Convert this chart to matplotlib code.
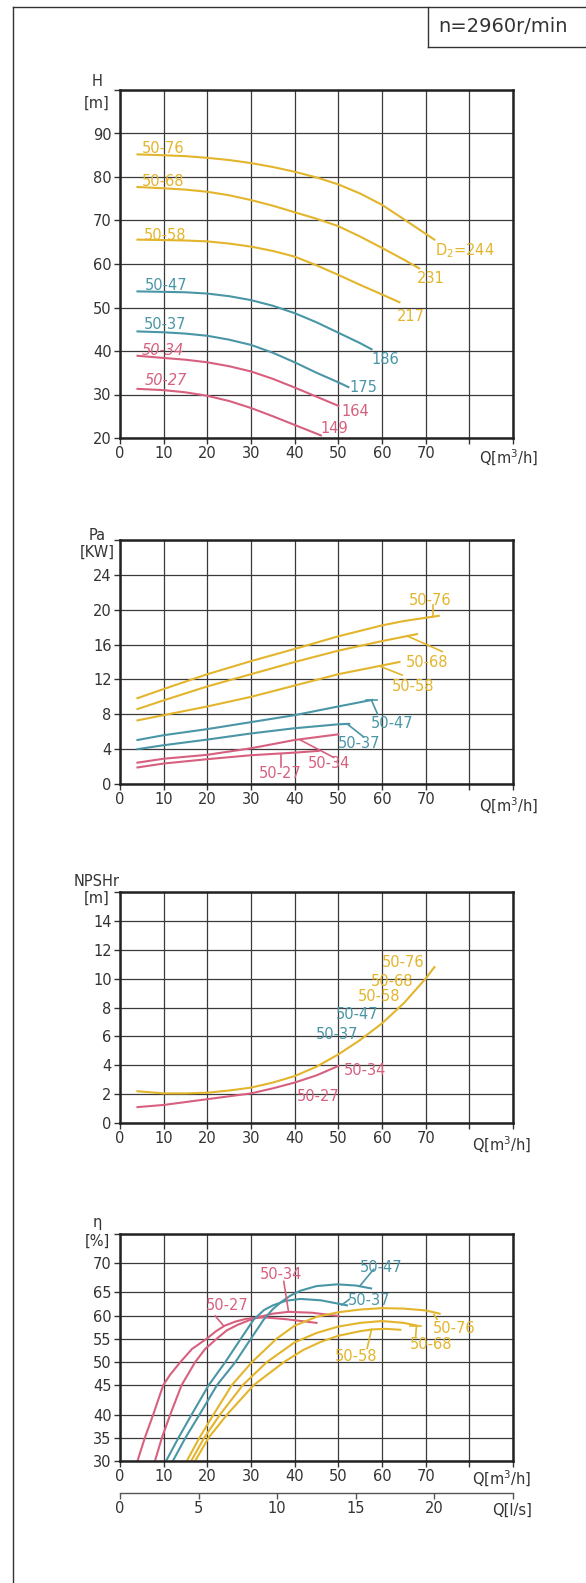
import numpy as np
import matplotlib.pyplot as plt
from matplotlib.lines import Line2D

# ---- data (Q in m3/h) ----
models = ['50-27', '50-34', '50-37', '50-47', '50-58', '50-68', '50-76']
impeller = ['149', '164', '175', '186', '217', '231', 'D$_2$=244']

head_q = {
    '50-76': [4, 10, 15, 20, 25, 30, 35, 40, 45, 50, 55, 60, 65, 72],
    '50-68': [4, 10, 15, 20, 25, 30, 35, 40, 45, 50, 55, 60, 65, 68.5],
    '50-58': [4, 10, 15, 20, 25, 30, 35, 40, 45, 50, 55, 60, 64],
    '50-47': [4, 10, 15, 20, 25, 30, 35, 40, 45, 50, 55, 57.6],
    '50-37': [4, 10, 15, 20, 25, 30, 35, 40, 45, 50, 52.3],
    '50-34': [4, 10, 15, 20, 25, 30, 35, 40, 45, 50],
    '50-27': [4, 10, 15, 20, 25, 30, 35, 40, 46],
}
head_h = {
    '50-76': [85.2, 85.0, 84.8, 84.4, 83.9, 83.2, 82.3, 81.2, 79.9, 78.3, 76.2, 73.6, 70.3, 65.6],
    '50-68': [77.7, 77.4, 77.1, 76.6, 75.8, 74.7, 73.4, 71.9, 70.4, 68.7, 66.3, 63.7, 61.0, 59.0],
    '50-58': [65.6, 65.5, 65.4, 65.2, 64.7, 64.0, 63.0, 61.7, 59.7, 57.5, 55.2, 53.0, 51.2],
    '50-47': [53.7, 53.6, 53.5, 53.2, 52.6, 51.7, 50.4, 48.7, 46.6, 44.2, 41.8, 40.4],
    '50-37': [44.5, 44.3, 44.0, 43.5, 42.6, 41.4, 39.6, 37.4, 35.0, 32.8, 31.7],
    '50-34': [38.9, 38.4, 38.0, 37.4, 36.5, 35.3, 33.6, 31.6, 29.5, 27.4],
    '50-27': [31.3, 31.0, 30.5, 29.7, 28.5, 26.9, 25.0, 23.0, 20.6],
}

power_q = {
    '50-76': [4, 10, 20, 30, 40, 50, 60, 65, 73],
    '50-68': [4, 10, 20, 30, 40, 50, 60, 68],
    '50-58': [4, 10, 20, 30, 40, 50, 60, 64],
    '50-47': [4, 10, 20, 30, 40, 50, 57.7],
    '50-37': [4, 10, 20, 30, 40, 50, 52.5],
    '50-34': [4, 10, 20, 30, 40, 50],
    '50-27': [4, 10, 20, 30, 40, 45.5],
}
power_p = {
    '50-76': [9.85, 10.9, 12.6, 14.1, 15.5, 16.95, 18.2, 18.7, 19.3],
    '50-68': [8.6, 9.6, 11.2, 12.6, 14.0, 15.3, 16.4, 17.2],
    '50-58': [7.3, 7.9, 8.9, 10.0, 11.3, 12.6, 13.6, 14.0],
    '50-47': [5.05, 5.6, 6.3, 7.1, 7.9, 8.9, 9.65],
    '50-37': [4.0, 4.45, 5.1, 5.8, 6.4, 6.85, 6.9],
    '50-34': [2.45, 2.9, 3.35, 4.1, 5.05, 5.7],
    '50-27': [1.9, 2.35, 2.85, 3.3, 3.6, 3.8],
}

npsh_q_big = [4, 10, 15, 20, 25, 30, 35, 40, 45, 50, 55, 60, 65, 70, 72]
npsh_big = [2.2, 2.05, 2.05, 2.1, 2.25, 2.45, 2.8, 3.25, 3.9, 4.75, 5.75, 6.9, 8.3, 10.0, 10.8]
npsh_q_small = [4, 10, 15, 20, 25, 30, 35, 40, 45, 50]
npsh_small = [1.1, 1.25, 1.45, 1.65, 1.85, 2.05, 2.4, 2.8, 3.3, 3.95]

eff_q = {
    '50-27': [4.0, 5.7, 7.6, 9.9, 11.5, 13.8, 16.5, 19.9, 22, 24, 26.5, 29, 33, 38, 45],
    '50-34': [8.0, 9.6, 11.5, 14.1, 17.2, 19.5, 22.2, 24.5, 27, 31, 35, 38.6, 44, 50],
    '50-37': [10.55, 13.4, 16.4, 20.3, 24.1, 27.7, 30.6, 33, 35, 38, 41.3, 46, 52],
    '50-47': [12.1, 15, 18.2, 22.2, 26.4, 30, 32.9, 35, 37, 39, 41.3, 45, 49.7, 54, 57.5],
    '50-76': [15.3, 18.2, 21.4, 25.6, 30.2, 35.9, 40, 45, 50, 55, 60, 65, 70, 73.2],
    '50-68': [16.3, 19.3, 22.9, 28.1, 33.6, 40, 45, 50, 55, 60, 65, 68],
    '50-58': [17.2, 20.3, 24.5, 30.6, 37.5, 42, 46, 50, 55, 58, 61, 64.2],
}
eff_e = {
    '50-27': [30, 35, 40, 45, 47.3, 50, 52.8, 55, 56.6, 57.8, 58.7, 59.3, 59.6, 59.2, 58.4],
    '50-34': [30, 35, 40, 45, 50, 52.8, 55, 56.8, 58, 59.5, 60.4, 60.8, 60.6, 59.9],
    '50-37': [30, 35, 40, 45, 50, 55, 59.1, 61.2, 62.2, 63.2, 63.6, 63.3, 62.2],
    '50-47': [30, 35, 40, 45, 50, 55, 59.1, 61.4, 63, 64.3, 65.3, 66.1, 66.4, 66.2, 65.7],
    '50-76': [30, 35, 40, 45, 50, 55, 57.8, 59.7, 60.7, 61.3, 61.6, 61.5, 61.1, 60.4],
    '50-68': [30, 35, 40, 45, 50, 54.2, 56.2, 57.6, 58.4, 58.8, 58.4, 57.8],
    '50-58': [30, 35, 40, 45, 50, 52.6, 54.3, 55.6, 56.6, 57.0, 57.1, 56.9],
}

YEL = '#E3B52C'
TEAL = '#4A96A6'
PINK = '#D8607F'
colors = {'50-27': PINK, '50-34': PINK, '50-37': TEAL, '50-47': TEAL,
          '50-58': YEL, '50-68': YEL, '50-76': YEL}

# uneven efficiency grid as drawn on the sheet
ETA_VALS = [30, 35, 40, 45, 50, 55, 60, 65, 70, 75]
ETA_POS = [0, 23.3, 46.3, 75.7, 98.7, 122.3, 145.3, 168.3, 197.3, 226.7]


def eta_fwd(v):
    v = np.asarray(v, float)
    out = np.interp(v, ETA_VALS, ETA_POS)
    out = np.where(v < 30, (v - 30) * 4.66, out)
    return np.where(v > 75, 226.7 + (v - 75) * 5.8, out)


def eta_inv(p):
    p = np.asarray(p, float)
    out = np.interp(p, ETA_POS, ETA_VALS)
    out = np.where(p < 0, 30 + p / 4.66, out)
    return np.where(p > 226.7, 75 + (p - 226.7) / 5.8, out)


W, H = 586, 1583
plt.rcParams['font.family'] = 'DejaVu Sans'
fig = plt.figure(figsize=(W / 100, H / 100), dpi=100)

TXT = '#333333'
LW = 1.5
FS = 10.5


def make_axes(top, bottom):
    ax = fig.add_axes([120 / W, 1 - bottom / H, 393 / W, (bottom - top) / H])
    ax.set_xlim(0, 90)
    ax.set_xticks(range(0, 91, 10))
    ax.set_xticklabels([str(v) for v in range(0, 71, 10)] + ['', ''])
    ax.grid(True, color='#3a3a3a', lw=0.9)
    for s in ax.spines.values():
        s.set_linewidth(1.8)
        s.set_color('#222222')
    ax.tick_params(direction='out', length=4, width=1, color='#333333',
                   labelsize=FS, labelcolor=TXT, pad=2)
    return ax


def fig_text(x, y, s, size=FS):
    fig.text(x / W, 1 - y / H, s, ha='center', va='center', fontsize=size,
             color=TXT)


def leader(ax, p0, p1, c):
    ax.plot([p0[0], p1[0]], [p0[1], p1[1]], color=c, lw=1.2)


# ---- frame of the sheet ----
for xs, ys in [([13, 13], [7, H]), ([13, W], [7, 7]),
               ([428, 428], [7, 47]), ([428, W], [47, 47])]:
    fig.add_artist(Line2D([x / W for x in xs], [1 - y / H for y in ys],
                          transform=fig.transFigure, color='#333333', lw=1))
fig_text(503, 26, 'n=2960r/min', size=14)

# ---- head ----
ax1 = make_axes(90, 438)
ax1.set_ylim(20, 100)
ax1.set_yticks(range(20, 101, 10))
ax1.set_yticklabels([str(v) for v in range(20, 91, 10)] + [''])
for m in models:
    ax1.plot(head_q[m], head_h[m], color=colors[m], lw=LW)

name_pos = {'50-76': (5.0, 85.6), '50-68': (5.0, 78.0), '50-58': (5.35, 65.6),
            '50-47': (5.6, 54.1), '50-37': (5.35, 45.0), '50-34': (5.0, 39.0),
            '50-27': (5.7, 32.2)}
d_pos = {'50-76': (72.2, 62.0), '50-68': (68.0, 55.6), '50-58': (63.3, 46.9),
         '50-47': (57.6, 37.0), '50-37': (52.6, 30.6), '50-34': (50.6, 25.1),
         '50-27': (46.0, 21.1)}
for m, d in zip(models, impeller):
    st = 'italic' if m in ('50-34', '50-27') else 'normal'
    ax1.text(*name_pos[m], m, color=colors[m], fontsize=FS, va='baseline',
             ha='left', style=st)
    ax1.text(*d_pos[m], d, color=colors[m], fontsize=FS, va='baseline', ha='left')
fig_text(97, 82, 'H')
fig_text(97, 103, '[m]')
fig_text(509, 458, 'Q[m$^3$/h]')

# ---- power ----
ax2 = make_axes(540, 784)
ax2.set_ylim(0, 28)
ax2.set_yticks(range(0, 29, 4))
ax2.set_yticklabels([str(v) for v in range(0, 25, 4)] + [''])
for m in models:
    ax2.plot(power_q[m], power_p[m], color=colors[m], lw=LW)

pa_lab = {'50-76': (71, 20.55), '50-68': (70.4, 13.43), '50-58': (67, 10.7),
          '50-47': (62.4, 6.43), '50-37': (54.7, 4.13), '50-34': (47.9, 1.84),
          '50-27': (36.7, 0.69)}
pa_lead = {'50-76': ((71.6, 19.2), (71.6, 20.5)),
           '50-68': ((65.7, 17.0), (73.8, 15.2)),
           '50-58': ((59.6, 13.5), (64.6, 12.5)),
           '50-47': ((57.6, 9.6), (59.0, 8.0)),
           '50-37': ((52.0, 6.9), (55.8, 5.4)),
           '50-34': ((41.3, 5.05), (48.9, 3.06)),
           '50-27': ((36.8, 3.45), (36.8, 2.0))}
for m in models:
    ax2.text(*pa_lab[m], m, color=colors[m], fontsize=FS, ha='center', va='baseline')
    leader(ax2, *pa_lead[m], colors[m])
ax2.plot([56.4, 58.8], [9.65, 9.65], color=TEAL, lw=1.2)
fig_text(97, 536, 'Pa')
fig_text(97, 552, '[KW]')
fig_text(509, 806, 'Q[m$^3$/h]')

# ---- NPSHr ----
ax3 = make_axes(892, 1123)
ax3.set_ylim(0, 16)
ax3.set_yticks(range(0, 17, 2))
ax3.set_yticklabels([str(v) for v in range(0, 15, 2)] + [''])
ax3.plot(npsh_q_big, npsh_big, color=YEL, lw=LW)
ax3.plot(npsh_q_small, npsh_small, color=PINK, lw=LW)
np_lab = {'50-76': (64.9, 10.81), '50-68': (62.3, 9.49), '50-58': (59.3, 8.48),
          '50-47': (54.4, 7.21), '50-37': (49.8, 5.82), '50-34': (56.0, 3.33),
          '50-27': (45.5, 1.52)}
for m in models:
    ax3.text(*np_lab[m], m, color=colors[m], fontsize=FS, ha='center', va='baseline')
fig_text(97, 881, 'NPSHr')
fig_text(97, 898, '[m]')
fig_text(502, 1145, 'Q[m$^3$/h]')

# ---- efficiency ----
ax4 = make_axes(1234, 1461)
ax4.set_yscale('function', functions=(eta_fwd, eta_inv))
ax4.set_ylim(30, 75)
ax4.set_yticks(ETA_VALS)
ax4.set_yticklabels([str(v) for v in ETA_VALS[:-1]] + [''])
ax4.yaxis.set_minor_locator(plt.NullLocator())
for m in models:
    ax4.plot(eff_q[m], eff_e[m], color=colors[m], lw=LW)

ef_lab = {'50-47': (59.8, 68.6), '50-37': (57.1, 62.3), '50-34': (36.9, 67.3),
          '50-27': (24.6, 61.1), '50-76': (76.6, 56.2), '50-68': (71.3, 52.75),
          '50-58': (54.1, 50.3)}
ef_lead = {'50-47': ((54.9, 66.1), (58.1, 69.0)),
           '50-37': ((50.8, 62.3), (52.5, 63.5)),
           '50-34': ((38.6, 60.8), (37.5, 66.9)),
           '50-27': ((23.7, 57.8), (21.8, 59.9)),
           '50-76': ((71.9, 60.2), (72.6, 59.2)),
           '50-68': ((67.9, 57.8), (67.7, 55.4)),
           '50-58': ((57.6, 57.0), (56.6, 52.9))}
for m in models:
    ax4.text(*ef_lab[m], m, color=colors[m], fontsize=FS, ha='center', va='baseline')
    leader(ax4, *ef_lead[m], colors[m])
ax4.plot([66.5, 69.0], [57.8, 57.8], color=YEL, lw=1.2)
fig_text(97, 1222, 'η')
fig_text(97, 1241, '[%]')
fig_text(502, 1479, 'Q[m$^3$/h]')

# litres per second scale under the efficiency chart
sec = ax4.secondary_xaxis(-32 / 227, functions=(lambda q: q / 3.6, lambda l: l * 3.6))
sec.set_xticks([0, 5, 10, 15, 20, 25])
sec.set_xticklabels(['0', '5', '10', '15', '20', ''])
sec.spines['bottom'].set_color('#555555')
sec.spines['bottom'].set_linewidth(1)
sec.tick_params(direction='out', length=4, width=1, color='#555555',
                labelsize=FS, labelcolor=TXT, pad=2)
fig_text(512, 1510, 'Q[l/s]')

fig.savefig('out.png', dpi=100)
